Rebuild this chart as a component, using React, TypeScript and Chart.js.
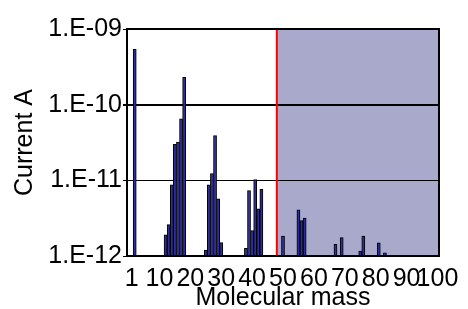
import React, { useEffect, useRef } from 'react';
import { Chart, registerables } from 'chart.js';

Chart.register(...registerables);

// Category axis: molecular masses 0..100
const massCategories: string[] = Array.from({ length: 101 }, (_, i) => String(i));
// Tick labels shown on the x axis
const xTickLabels = ['1', '10', '20', '30', '40', '50', '60', '70', '80', '90', '100'];
// Peaks: molecular mass and measured current (A)
const peakMasses = [2, 12, 13, 14, 15, 16, 17, 18, 25, 26, 27, 28, 29, 30, 38, 39, 40, 41, 42, 43, 50, 55, 56, 57, 67, 69, 75, 76, 81, 83];
const peakCurrents = [
  5.4e-10,
  1.9e-12, 2.6e-12, 8.7e-12, 3.0e-11, 3.2e-11, 6.5e-11, 2.3e-10,
  1.2e-12, 8.7e-12, 1.23e-11, 3.9e-11, 5.7e-12, 1.5e-12,
  1.26e-12, 7.3e-12, 2.16e-12, 1.02e-11, 4.2e-12, 7.6e-12,
  1.84e-12, 4.07e-12, 2.93e-12, 3.16e-12, 1.43e-12, 1.75e-12, 1.16e-12, 1.84e-12, 1.49e-12, 1.1e-12,
];
// Y axis decade ticks
const yTickValues = [1e-12, 1e-11, 1e-10, 1e-9];
// Shaded region starts at this mass
const shadeFromMass = '48';

const FONT = "'Liberation Sans', Arial, sans-serif";

function fmtExp(v: number): string {
  const e = Math.round(Math.log10(v));
  return '1.E-' + String(-e).padStart(2, '0');
}

const regionPlugin = {
  id: 'regionPlugin',
  beforeDraw(chart: any) {
    const { ctx, chartArea: a, scales } = chart;
    const xs = scales.x.getPixelForValue(massCategories.indexOf(shadeFromMass));
    ctx.save();
    ctx.fillStyle = '#a9a9cc';
    ctx.fillRect(xs, a.top, a.right - xs, a.bottom - a.top);
    ctx.restore();
  },
  beforeDatasetsDraw(chart: any) {
    const { ctx, chartArea: a, scales } = chart;
    const xs = scales.x.getPixelForValue(massCategories.indexOf(shadeFromMass));
    ctx.save();
    ctx.strokeStyle = '#ff0000';
    ctx.lineWidth = 2;
    ctx.beginPath();
    ctx.moveTo(xs, a.top);
    ctx.lineTo(xs, a.bottom);
    ctx.stroke();
    ctx.restore();
  },
  afterDraw(chart: any) {
    const { ctx, chartArea: a } = chart;
    ctx.save();
    ctx.strokeStyle = '#000';
    ctx.lineWidth = 2;
    ctx.strokeRect(a.left, a.top, a.right - a.left, a.bottom - a.top);
    ctx.restore();
  },
};

export default function App() {
  const ref = useRef<HTMLCanvasElement | null>(null);

  useEffect(() => {
    if (!ref.current) return;
    const values: (number | null)[] = massCategories.map(() => null);
    peakMasses.forEach((m, i) => {
      values[massCategories.indexOf(String(m))] = peakCurrents[i];
    });

    const chart = new Chart(ref.current, {
      type: 'bar',
      data: {
        labels: massCategories,
        datasets: [
          {
            data: values as any,
            backgroundColor: '#2e2e99',
            borderColor: '#000000',
            borderWidth: 1,
            barPercentage: 1,
            categoryPercentage: 1,
          },
        ],
      },
      options: {
        responsive: false,
        animation: false,
        devicePixelRatio: 1,
        layout: { padding: { left: 0, right: 29, top: 29, bottom: 0 } },
        plugins: { legend: { display: false }, tooltip: { enabled: false } },
        scales: {
          x: {
            type: 'category',
            afterFit: (s: any) => { s.height = 53; },
            ticks: {
              autoSkip: false,
              maxRotation: 0,
              minRotation: 0,
              padding: 8,
              color: '#000',
              font: { family: FONT, size: 25 },
              callback: (_v: any, index: number) => {
                const lab = massCategories[index];
                return xTickLabels.includes(lab) ? lab : '';
              },
            },
            grid: { drawOnChartArea: false, drawTicks: false },
            border: { color: '#000', width: 2 },
            title: {
              display: true,
              text: 'Molecular mass',
              color: '#000',
              font: { family: FONT, size: 25, lineHeight: 0.88 },
              padding: { top: 0, bottom: 0 },
            },
          },
          y: {
            type: 'logarithmic',
            min: 1e-12,
            max: 1e-9,
            afterBuildTicks: (s: any) => { s.ticks = yTickValues.map((v) => ({ value: v })); },
            afterFit: (s: any) => { s.width = 127; },
            ticks: {
              color: '#000',
              padding: 1,
              font: { family: FONT, size: 25 },
              callback: (v: any) => fmtExp(Number(v)),
            },
            grid: {
              color: '#000',
              tickLength: 4,
              lineWidth: (c: any) => (c.tick && c.tick.value === 1e-10 ? 2 : 1),
            },
            border: { color: '#000', width: 2 },
            title: {
              display: true,
              text: 'Current A',
              color: '#000',
              font: { family: FONT, size: 25 },
              padding: { top: 10, bottom: 0 },
            },
          },
        },
      },
      plugins: [regionPlugin],
    });
    return () => chart.destroy();
  }, []);

  return (
    <div style={{ position: 'absolute', left: 0, top: 0, width: 468, height: 309, background: '#fff' }}>
      <canvas ref={ref} width={468} height={309} style={{ display: 'block' }} />
    </div>
  );
}
